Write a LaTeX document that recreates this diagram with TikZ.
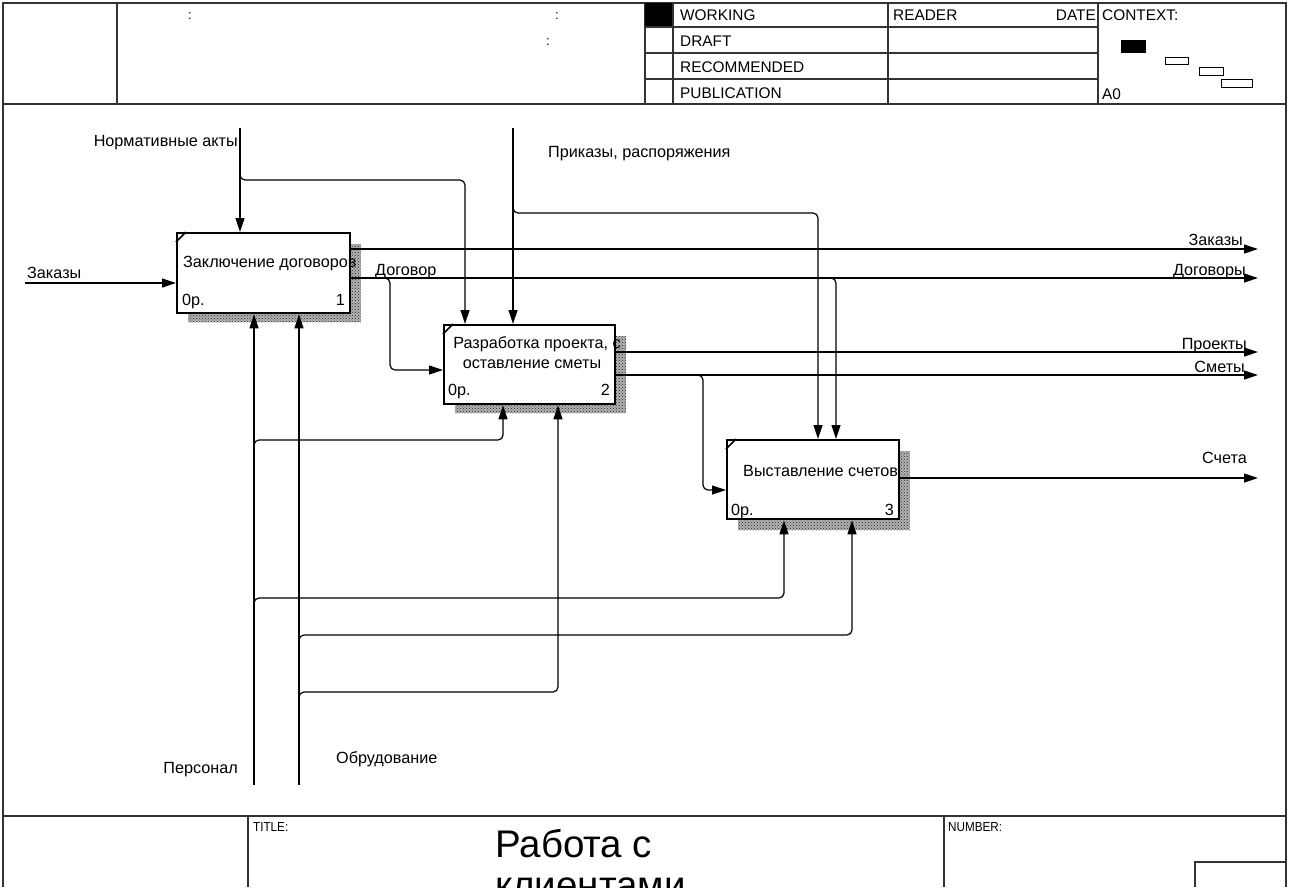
\documentclass[tikz,border=0pt]{standalone}
\usepackage{fontspec}
\setmainfont{Liberation Sans}
\usetikzlibrary{arrows.meta,patterns,calc}
\begin{document}
\begin{tikzpicture}[x=1pt,y=-1pt,
  framel/.style={draw=black!80, line width=1.2pt},
  box/.style={draw, line width=2.4pt, fill=white, anchor=north west, inner sep=0pt},
  shad/.style={preaction={fill=gray!60}, pattern=crosshatch dots, pattern color=black!85, draw=none},
  conn/.style={line width=1.2pt, rounded corners=5pt},
  arr/.style={conn, -{Triangle[length=14pt,width=9pt]}},
  lbl/.style={font=\fontsize{16.2}{19}\selectfont, inner sep=0pt},
  hdr/.style={font=\fontsize{15.4}{18}\selectfont, inner sep=0pt},
  small/.style={font=\fontsize{13}{15}\selectfont, inner sep=0pt},
  ctx/.style={draw, line width=1pt},
]
\useasboundingbox (0,0) rectangle (1290,887);
\fill[white] (0,0) rectangle (1290,887);

% ---------- frame / header ----------
\draw[framel] (3,887) -- (3,3) -- (1286,3) -- (1286,887);
\draw[framel] (3,104) -- (1286,104);
\draw[framel] (117,3) -- (117,104);
\draw[framel] (645,3) -- (645,104);
\fill (645,3) rectangle (673,27);
\draw[framel] (673,3) -- (673,104);
\draw[framel] (888,3) -- (888,104);
\draw[framel] (1098,3) -- (1098,104);
\foreach \yy in {27,53,79} \draw[framel] (645,\yy) -- (1098,\yy);

\node[small, anchor=base] at (190,19) {:};
\node[small, anchor=base] at (557,19) {:};
\node[small, anchor=base] at (548,45) {:};

\node[hdr, anchor=base west] (hw) at (680,20.5) {WORKING};
\node[hdr, anchor=base west] (hd) at (680,46.5) {DRAFT};
\node[hdr, anchor=base west] (hr) at (680,72.5) {RECOMMENDED};
\node[hdr, anchor=base west] (hp) at (680,98.5) {PUBLICATION};
\node[hdr, anchor=base west] (hrd) at (893,20.5) {READER};
\node[hdr, anchor=base east] (hdt) at (1096,20.5) {DATE};
\node[hdr, anchor=base west] (hc) at (1102,20.5) {CONTEXT:};
\node[hdr, anchor=base west] (ha) at (1102,99.5) {A0};

\fill (1121,40) rectangle (1146,53);
\draw[ctx] (1165,57) rectangle (1188,64);
\draw[ctx] (1199,67) rectangle (1223,75);
\draw[ctx] (1221,79) rectangle (1252,87);

% ---------- bottom ----------
\draw[framel] (3,816) -- (1286,816);
\draw[framel] (248,816) -- (248,887);
\draw[framel] (944,816) -- (944,887);
\draw[framel] (1195,887) -- (1195,862) -- (1286,862);
\node[small, anchor=base west, xscale=0.9] (tl) at (253,831) {TITLE:};
\node[small, anchor=base west, xscale=0.9] (nl) at (948,831) {NUMBER:};
\begin{scope}
\clip (0,816) rectangle (1290,887);
\node[font=\fontsize{38.5}{44}\selectfont, inner sep=0pt, anchor=base west] (t1) at (495,857) {Работа с};
\node[font=\fontsize{38.5}{44}\selectfont, inner sep=0pt, anchor=base west] (t2) at (495,898) {клиентами};
\end{scope}

% ---------- shadows ----------
\path[shad] (188,244) rectangle (361,322);
\path[shad] (455,336) rectangle (626,413);
\path[shad] (738,451) rectangle (910,530);

% ---------- boxes ----------
\node[box, minimum width=173pt, minimum height=80pt] (b1) at (176,232) {};
\node[box, minimum width=171pt, minimum height=79pt] (b2) at (443,324) {};
\node[box, minimum width=172pt, minimum height=79pt] (b3) at (726,439) {};
\foreach \b in {b1,b2,b3}
  \draw[line width=1.6pt] ($(\b.north west)+(0,10)$) -- ($(\b.north west)+(10,0)$);

\node[lbl, anchor=base west] at (183,267.5) {Заключение договоров};
\node[lbl, anchor=base west] at (182,305) {0р.};
\node[lbl, anchor=base east] at (345,305) {1};

\node[lbl, anchor=base] at (537,348.5) {Разработка проекта, с};
\node[lbl, anchor=base] at (532,368.5) {оставление сметы};
\node[lbl, anchor=base west] at (448,395.5) {0р.};
\node[lbl, anchor=base east] at (610,395.5) {2};

\node[lbl, anchor=base west] at (743,476.5) {Выставление счетов};
\node[lbl, anchor=base west] at (731,515.5) {0р.};
\node[lbl, anchor=base east] at (894,515.5) {3};

% ---------- free ends ----------
\coordinate (inZak) at (25,283);
\coordinate (ctlNorm) at (240,128);
\coordinate (ctlPrik) at (513,128);
\coordinate (outZak) at (1258,249);
\coordinate (outDog) at (1258,278);
\coordinate (outPro) at (1258,352);
\coordinate (outSme) at (1258,375);
\coordinate (outSch) at (1258,478);
\coordinate (mPers) at (254,785);
\coordinate (mObor) at (299,785);

% ---------- inputs ----------
\draw[arr] (inZak) -- (b1.west |- inZak);

% ---------- controls ----------
\draw[arr] (ctlNorm) -- (ctlNorm |- b1.north);
\draw[arr] (240,172) |- (465,180) -- (465,0 |- b2.north);
\draw[arr] (ctlPrik) -- (ctlPrik |- b2.north);
\draw[arr] (513,205) |- (818,213) -- (818,0 |- b3.north);

% ---------- outputs ----------
\draw[arr] (b1.east |- outZak) -- (outZak);
\draw[arr] (b1.east |- outDog) -- (outDog);
\draw[arr] (382,278) -| (390,370) -- (b2.west |- 0,370);
\draw[arr] (828,278) -| (836,0 |- b3.north);
\draw[arr] (b2.east |- outPro) -- (outPro);
\draw[arr] (b2.east |- outSme) -- (outSme);
\draw[arr] (695,375) -| (703,490) -- (b3.west |- 0,490);
\draw[arr] (b3.east |- outSch) -- (outSch);

% ---------- mechanisms ----------
\draw[arr] (mPers) -- (mPers |- b1.south);
\draw[arr] (mObor) -- (mObor |- b1.south);
\draw[arr] (254,448) |- (503,440) -- (503,0 |- b2.south);
\draw[arr] (254,606) |- (784,598) -- (784,0 |- b3.south);
\draw[arr] (299,643) |- (852,635) -- (852,0 |- b3.south);
\draw[arr] (299,700) |- (558,692) -- (558,0 |- b2.south);

% ---------- labels ----------
\node[lbl, anchor=base east] at (238,146.5) {Нормативные акты};
\node[lbl, anchor=base west] at (548,157.5) {Приказы, распоряжения};
\node[lbl, anchor=base west] at (27,278.5) {Заказы};
\node[lbl, anchor=base west] at (375,275.5) {Договор};
\node[lbl, anchor=base east] at (1243,245.5) {Заказы};
\node[lbl, anchor=base east] at (1246,275.5) {Договоры};
\node[lbl, anchor=base east] at (1247,349.5) {Проекты};
\node[lbl, anchor=base east] at (1245,372.5) {Сметы};
\node[lbl, anchor=base east] at (1247,463.5) {Счета};
\node[lbl, anchor=base east] at (238,773.5) {Персонал};
\node[lbl, anchor=base west] at (336,763.5) {Обрудование};
\end{tikzpicture}
\end{document}
